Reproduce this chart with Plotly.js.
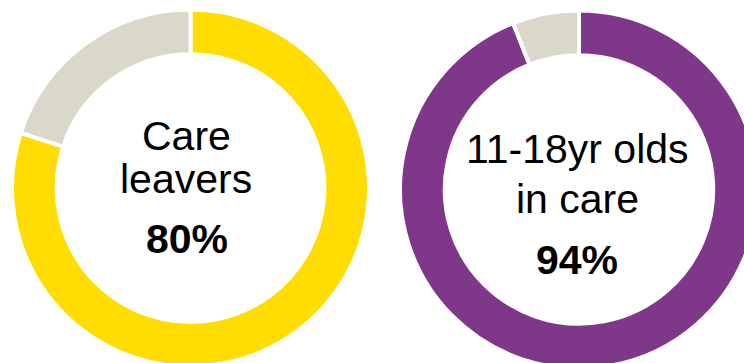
<!DOCTYPE html>
<html>
<head>
<meta charset="utf-8">
<script src="https://cdn.plot.ly/plotly-3.0.1.min.js"></script>
<style>
  html, body { margin: 0; padding: 0; overflow: hidden; background: #ffffff; }
  #chart { width: 780px; height: 380px; }
</style>
</head>
<body>
<div id="chart"></div>
<script>
// Share of each group, with the remainder shown in grey
const groups = ["Care leavers", "11-18yr olds in care"];
const shares = [80, 94];
const sliceLabels = ["Share", "Remainder"];
const ringColours = ["#FFDD00", "#7F3889"];
const restColour = "#DAD7CB";
// Centre text, one entry per line
const leftLines = ["Care", "leavers"];
const rightLines = ["11-18yr olds", "in care"];

const W = 780, H = 380;
const px = v => v / W;
const py = v => (H - v) / H;

// ring geometry in pixels: centre x, centre y, radius
const rings = [
  { cx: 190.5, cy: 188, r: 178.5 },
  { cx: 579, cy: 189.5, r: 179 }
];

const traces = shares.map((s, i) => {
  const g = rings[i];
  return {
    type: "pie",
    name: groups[i],
    labels: sliceLabels,
    values: [s, 100 - s],
    sort: false,
    direction: "clockwise",
    rotation: 0,
    hole: 0.75,
    textinfo: "none",
    hoverinfo: "none",
    showlegend: false,
    marker: { colors: [ringColours[i], restColour], line: { color: "#ffffff", width: 4 } },
    domain: {
      x: [px(g.cx - g.r), px(g.cx + g.r)],
      y: [py(g.cy + g.r), py(g.cy - g.r)]
    }
  };
});

const font = "Arial, 'Liberation Sans', sans-serif";
function note(text, x, y, size, bold) {
  return {
    text: bold ? "<b>" + text + "</b>" : text,
    x: px(x), y: py(y), xref: "paper", yref: "paper",
    xanchor: "center", yanchor: "middle",
    showarrow: false,
    font: { family: font, size: size, color: "#000000" }
  };
}

const annotations = [
  note(leftLines[0], 186, 135.5, 41, false),
  note(leftLines[1], 186, 179, 41, false),
  note(shares[0] + "%", 186.5, 239, 41, true),
  note(rightLines[0], 577, 149, 41, false),
  note(rightLines[1], 577, 199, 41, false),
  note(shares[1] + "%", 577, 259.5, 41, true)
];

Plotly.newPlot("chart", traces, {
  width: W, height: H,
  margin: { l: 0, r: 0, t: 0, b: 0, pad: 0 },
  paper_bgcolor: "#ffffff",
  plot_bgcolor: "#ffffff",
  annotations: annotations
}, { staticPlot: true, displayModeBar: false });
</script>
</body>
</html>
